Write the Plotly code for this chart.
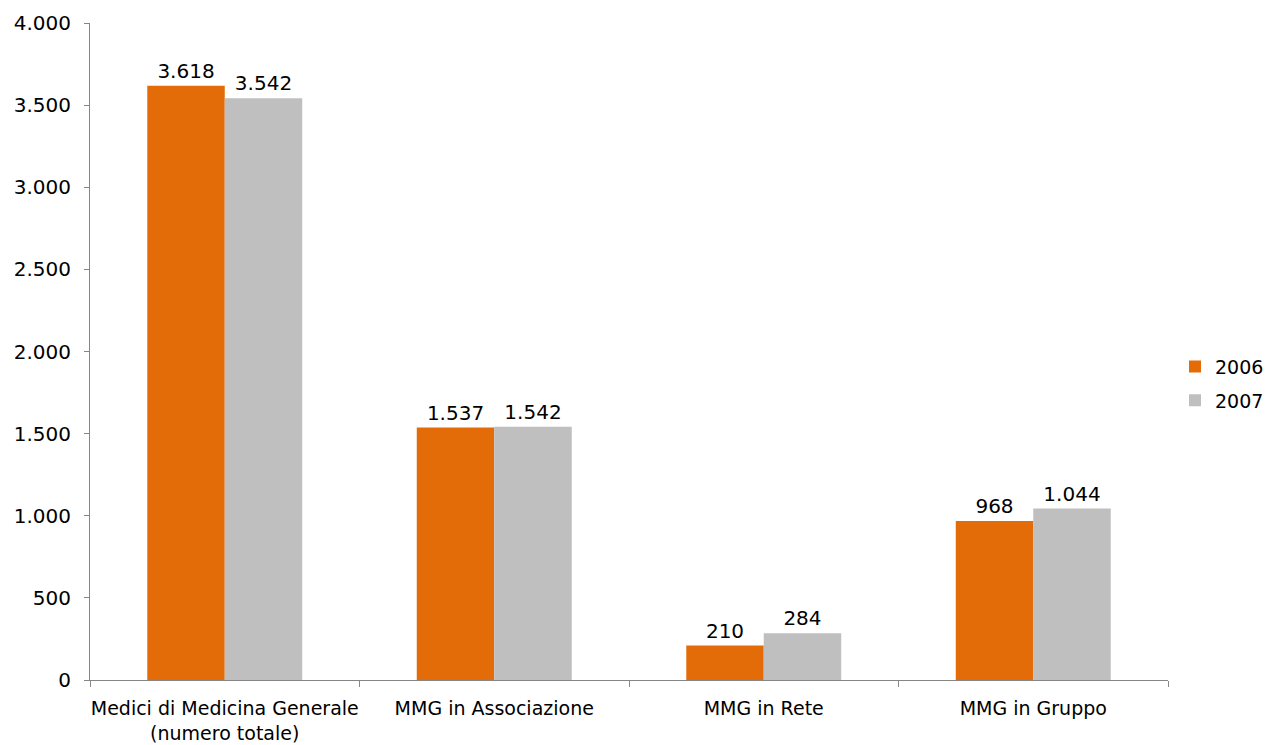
import plotly.graph_objects as go

categories = ["Medici di Medicina Generale<br>(numero totale)", "MMG in Associazione", "MMG in Rete", "MMG in Gruppo"]
values_2006 = [3618, 1537, 210, 968]
values_2007 = [3542, 1542, 284, 1044]
series_names = ["2006", "2007"]
tick_values = [0, 500, 1000, 1500, 2000, 2500, 3000, 3500, 4000]

FONT = "DejaVu Sans"
FS = 20
AXIS = "#868686"

fig = go.Figure()
fig.add_trace(go.Bar(
    x=categories, y=values_2006, name=series_names[0], legendgroup="a",
    marker=dict(color="#E36C09", line=dict(width=0)),
    texttemplate="%{y:,d}", textposition="outside", cliponaxis=False,
    textfont=dict(family=FONT, size=FS, color="#000000"),
))
fig.add_trace(go.Bar(
    x=categories, y=values_2007, name=series_names[1], legendgroup="b",
    marker=dict(color="#BFBFBF", line=dict(width=0)),
    texttemplate="%{y:,d}", textposition="outside", cliponaxis=False,
    textfont=dict(family=FONT, size=FS, color="#000000"),
))

fig.update_layout(
    width=1266, height=745,
    margin=dict(l=90, r=98, t=23, b=65, autoexpand=False),
    paper_bgcolor="white", plot_bgcolor="white",
    separators=",.",
    barmode="group", bargap=0.425, bargroupgap=0,
    font=dict(family=FONT, size=FS, color="#000000"),
    showlegend=True,
    legend=dict(x=1.0065, xanchor="left", y=0.451, yanchor="middle",
                font=dict(family=FONT, size=19), traceorder="grouped",
                tracegroupgap=6, bgcolor="rgba(0,0,0,0)"),
    xaxis=dict(
        range=[-0.5, 3.5], showline=True, linecolor=AXIS, linewidth=1,
        ticks="outside", tickson="boundaries", ticklen=6, tickcolor=AXIS,
        showgrid=False, zeroline=False, automargin=False, tickangle=0,
        ticklabelstandoff=11,
        tickfont=dict(family=FONT, size=19),
    ),
    yaxis=dict(
        range=[0, 4000], tickvals=tick_values, tickformat=",d",
        showline=True, linecolor=AXIS, linewidth=1,
        ticks="outside", ticklen=5, tickcolor=AXIS, ticklabelstandoff=9,
        showgrid=False, zeroline=False, automargin=False,
        tickfont=dict(family=FONT, size=FS),
    ),
)

fig.write_html(
    "out.html",
    config={"displayModeBar": False},
    post_script="document.body.style.margin='0';document.body.style.overflow='hidden';",
)
